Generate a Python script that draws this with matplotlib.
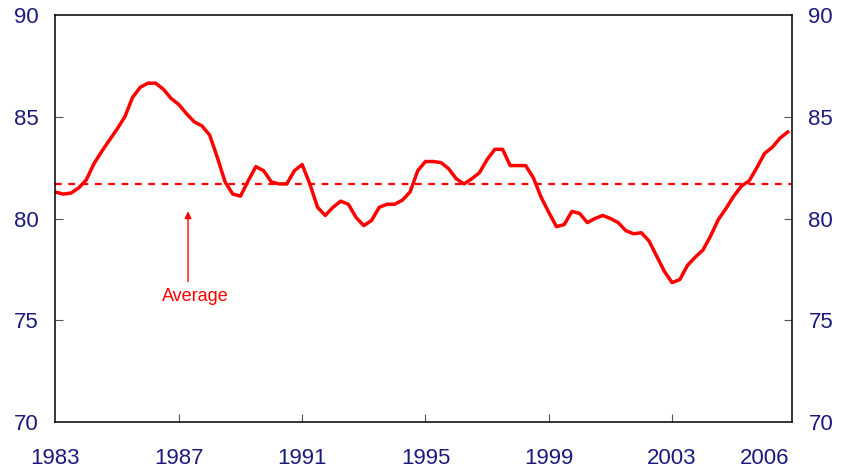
import matplotlib
matplotlib.use("Agg")
import matplotlib.pyplot as plt
import numpy as np

plt.rcParams['font.family'] = ['Liberation Sans', 'DejaVu Sans']

# quarterly series, 1983 Q1 onwards
start_year = 1983.0
values = [
    81.3, 81.2, 81.25, 81.5, 81.9, 82.7, 83.3, 83.85,
    84.4, 85.0, 85.95, 86.45, 86.65, 86.65, 86.35, 85.9,
    85.6, 85.15, 84.75, 84.55, 84.1, 83.0, 81.8, 81.2,
    81.1, 81.85, 82.55, 82.35, 81.8, 81.7, 81.7, 82.35,
    82.65, 81.7, 80.55, 80.15, 80.55, 80.85, 80.7, 80.05,
    79.65, 79.9, 80.55, 80.7, 80.7, 80.9, 81.3, 82.35,
    82.8, 82.8, 82.75, 82.45, 81.95, 81.7, 81.95, 82.25,
    82.9, 83.4, 83.4, 82.6, 82.6, 82.6, 82.0, 81.05,
    80.3, 79.6, 79.7, 80.35, 80.25, 79.8, 80.0, 80.15,
    80.0, 79.8, 79.4, 79.25, 79.3, 78.9, 78.15, 77.4,
    76.85, 77.0, 77.7, 78.1, 78.45, 79.15, 79.95, 80.5,
    81.1, 81.6, 81.85, 82.5, 83.2, 83.5, 83.95, 84.25,
]
average = 81.7
year_ticks = [1983, 1987, 1991, 1995, 1999, 2003, 2006]
y_ticks = [70, 75, 80, 85, 90]

label_col = '#1a1a80'
red = '#ff0000'

x = start_year + 0.25 * np.arange(len(values))

fig = plt.figure(figsize=(8.42, 4.73), dpi=100)
ax = fig.add_axes([0.0659, 0.1078, 0.8744, 0.8605])

ax.plot(x, values, color=red, linewidth=2.5, solid_joinstyle='round')
ax.axhline(average, color=red, linewidth=1.6, linestyle=(0, (3, 3)))

# arrow + label for the average line
ax.annotate('', xy=(1987.3, 80.35), xytext=(1987.3, 76.9),
            arrowprops=dict(arrowstyle='-|>', color=red, lw=1.0,
                            mutation_scale=10, shrinkA=0, shrinkB=0))
ax.text(1987.55, 76.15, 'Average', color=red, fontsize=13,
        ha='center', va='center')

ax.set_xlim(1983, 2006.88)
ax.set_ylim(70, 90)
ax.set_xticks(year_ticks)
ax.set_xticklabels([str(y) for y in year_ticks])
ax.set_yticks(y_ticks)

ax.tick_params(axis='x', direction='in', length=6, width=0.8, color='#555555',
               labelsize=16, labelcolor=label_col, pad=19)
ax.tick_params(axis='y', direction='in', length=6, width=0.8, color='#555555',
               labelsize=16, labelcolor=label_col, pad=12,
               right=True, labelright=True)
# no tick marks at the ends
ax.xaxis.get_major_ticks()[0].tick1line.set_visible(False)
ax.xaxis.get_major_ticks()[-1].tick1line.set_visible(False)
ax.yaxis.get_major_ticks()[0].tick1line.set_visible(False)
ax.yaxis.get_major_ticks()[0].tick2line.set_visible(False)
ax.yaxis.get_major_ticks()[-1].tick1line.set_visible(False)
ax.yaxis.get_major_ticks()[-1].tick2line.set_visible(False)

for s in ax.spines.values():
    s.set_linewidth(1.1)
    s.set_color('black')

fig.savefig('out.png', dpi=100)
